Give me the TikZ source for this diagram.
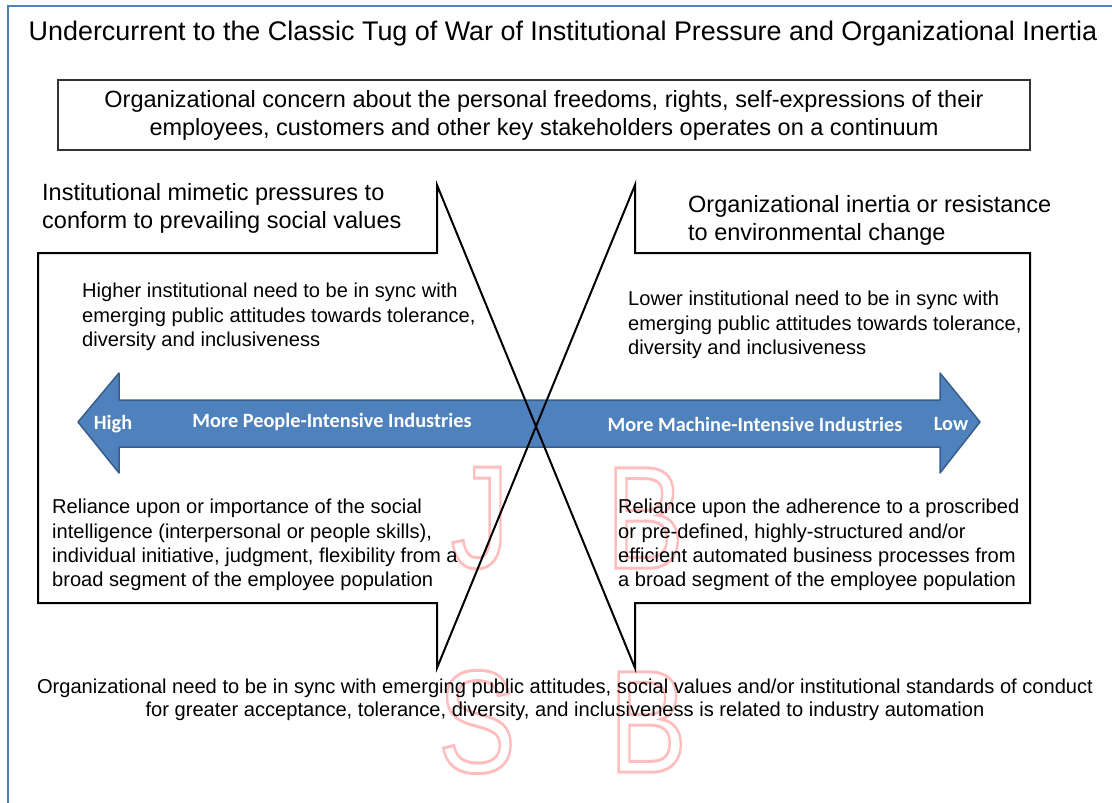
\documentclass[tikz,border=0pt]{standalone}
\usepackage{fontspec}
\setmainfont{Liberation Sans}
\newfontfamily\bandfont{Carlito}
\usetikzlibrary{positioning}
\definecolor{frameblue}{HTML}{4F81BD}
\definecolor{bandfill}{HTML}{4F81BD}
\definecolor{bandline}{HTML}{385D8A}
\definecolor{markpink}{HTML}{FFBDBD}
\newcommand{\hollow}[1]{\special{pdf:literal direct 1 Tr 3 w}#1\special{pdf:literal direct 0 Tr}}
\tikzset{
    heading/.style={font=\fontsize{26.9}{30}\selectfont, inner sep=0},
    claim/.style={font=\fontsize{23.5}{28}\selectfont, align=left, anchor=north west, inner sep=0},
    note/.style={font=\fontsize{20.1}{24.3}\selectfont, align=left, anchor=north west, inner sep=0},
    band/.style={font=\bandfont\bfseries\fontsize{20.3}{22}\selectfont, text=white, inner sep=0},
    wmark/.style={font=\fontsize{146}{150}\selectfont, text=markpink, inner sep=0, xscale=0.8, transform shape},
}

\begin{document}
\begin{tikzpicture}[x=1pt, y=-1pt]
    \useasboundingbox (0,0) rectangle (1112,803);

    % frame
    \draw[frameblue, line width=2pt] (8,803) -- (8,6) -- (1112,6);

    \node[heading] (title) at (563,34)
        {Undercurrent to the Classic Tug of War of Institutional Pressure and Organizational Inertia};

    \node[draw=black!80, line width=1.2pt, minimum width=972, minimum height=70,
          font=\fontsize{23.5}{28}\selectfont, align=center, inner sep=0] (concern) at (544,115)
        {Organizational concern about the personal freedoms, rights, self-expressions of their\\
         employees, customers and other key stakeholders operates on a continuum};

    % watermark
    \node[wmark] (wj) at (480,518) {\hollow{J}};
    \node[wmark] (wb) at (645,518) {\hollow{B}};
    \node[wmark] (ws) at (477,722) {\hollow{S}};
    \node[wmark] (wb2) at (648,722) {\hollow{B}};

    % continuum arrow
    \draw[fill=bandfill, draw=bandline, line width=1.5pt, line join=round]
        (78,422) -- (119,373) -- (119,400) -- (940,400) -- (940,373) -- (980,422)
        -- (940,473) -- (940,447) -- (119,447) -- (119,473) -- cycle;
    \node[band] (high) at (113,424) {High};
    \node[band] (people) at (332,422) {More People-Intensive Industries};
    \node[band] (machine) at (755,424) {More Machine-Intensive Industries};
    \node[band] (low) at (951,424) {Low};

    % the two callouts, one crossed outline
    \draw[line width=2pt, line join=miter]
        (38,253) -- (437,253) -- (437,185) -- (635,668) -- (635,603) -- (1030,603)
        -- (1030,253) -- (635,253) -- (635,185) -- (437,668) -- (437,603) -- (38,603) -- cycle;

    \node[claim] (mimetic) at (42,183)
        {Institutional mimetic pressures to\\conform to prevailing social values};
    \node[claim] (inertia) at (688,195)
        {Organizational inertia or resistance\\to environmental change};

    \node[note] (higher) at (82,283)
        {Higher institutional need to be in sync with\\
         emerging public attitudes towards tolerance,\\
         diversity and inclusiveness};
    \node[note] (lower) at (628,291)
        {Lower institutional need to be in sync with\\
         emerging public attitudes towards tolerance,\\
         diversity and inclusiveness};
    \node[note] (social) at (52,499)
        {Reliance upon or importance of the social\\
         intelligence (interpersonal or people skills),\\
         individual initiative, judgment, flexibility from a\\
         broad segment of the employee population};
    \node[note] (automated) at (618,499)
        {Reliance upon the adherence to a proscribed\\
         or pre-defined, highly-structured and/or\\
         efficient automated business processes from\\
         a broad segment of the employee population};

    \node[font=\fontsize{20.1}{23}\selectfont, align=center, inner sep=0] (related) at (565,700)
        {Organizational need to be in sync with emerging public attitudes, social values and/or institutional standards of conduct\\
         for greater acceptance, tolerance, diversity, and inclusiveness is related to industry automation};
\end{tikzpicture}
\end{document}
